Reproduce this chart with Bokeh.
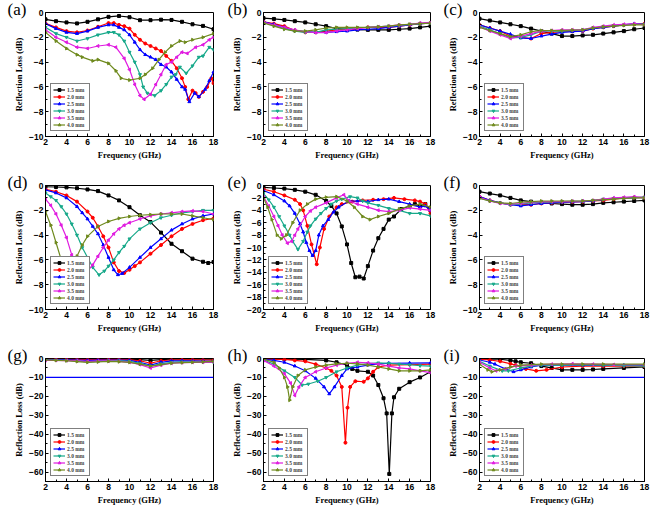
import math
from bokeh.plotting import figure
from bokeh.layouts import gridplot
from bokeh.models import Range1d, FixedTicker, Span
from bokeh.embed import file_html
from bokeh.resources import INLINE

THICKNESS = ["1.5 mm", "2.0 mm", "2.5 mm", "3.0 mm", "3.5 mm", "4.0 mm"]
COLORS = ["#000000", "#FF0000", "#0000FF", "#17A98A", "#E01BE0", "#6F8A1E"]
MARKERS = [("square", 0.0), ("circle", 0.0), ("triangle", 0.0),
           ("inverted_triangle", 0.0), ("triangle", math.pi / 2), ("triangle", -math.pi / 2)]
PANEL_LABELS = ["(a)", "(b)", "(c)", "(d)", "(e)", "(f)", "(g)", "(h)", "(i)"]
X_TICKS = [2, 4, 6, 8, 10, 12, 14, 16, 18]
REF_LEVEL = -10

FREQ = [2, 3, 4, 5, 6, 7, 8, 9, 10, 11, 12, 13, 14, 15, 16, 17, 18]

a15 = [(2,-0.55),(3,-0.7),(4,-0.8),(5,-0.88),(6,-0.75),(7,-0.55),(8,-0.35),(9,-0.28),(10,-0.38),(11,-0.62),(12,-0.62),(13,-0.58),(14,-0.6),(15,-0.75),(16,-0.95),(17,-1.08),(18,-1.35)]
a20 = [(2,-0.88),(3,-1.2),(4,-1.5),(5,-1.6),(6,-1.45),(7,-1.15),(8,-0.85),(8.5,-0.85),(9,-1.0),(9.5,-1.1),(10,-1.3),(10.5,-1.8),(11,-2.2),(11.5,-2.5),(12,-2.7),(12.5,-2.9),(13,-3.1),(13.5,-3.5),(14,-3.9),(14.5,-4.5),(15,-5.3),(15.3,-6.0),(15.6,-7.0),(16,-6.3),(16.3,-6.5),(16.6,-6.8),(17,-6.4),(17.4,-6.0),(17.8,-5.3),(18,-5.7)]
a25 = [(2,-0.9),(3,-1.3),(4,-1.6),(5,-1.7),(6,-1.5),(7,-1.2),(8,-1.0),(8.5,-1.0),(9,-1.2),(9.5,-1.4),(10,-1.8),(10.5,-2.4),(11,-3.0),(11.5,-3.4),(12,-3.6),(12.5,-3.8),(13,-4.2),(13.5,-4.4),(14,-4.8),(14.5,-5.4),(15,-6.0),(15.3,-6.2),(15.7,-7.2),(16.2,-6.5),(16.6,-6.8),(17.2,-6.2),(17.6,-5.5),(18,-4.8)]
a30 = [(2,-1.2),(3,-1.7),(4,-2.0),(5,-2.3),(6,-2.1),(7,-1.8),(8,-1.6),(8.5,-1.6),(9,-1.8),(9.5,-2.3),(10,-3.2),(10.5,-4.0),(11,-5.0),(11.3,-6.0),(11.7,-6.5),(12.4,-6.7),(13,-6.3),(13.5,-5.8),(14,-5.2),(14.4,-5.0),(14.8,-4.4),(15.4,-4.9),(16,-4.3),(16.6,-3.6),(17,-3.5),(17.6,-2.8),(18,-3.0)]
a35 = [(2,-1.4),(3,-2.0),(4,-2.4),(5,-2.8),(6,-2.9),(7,-2.7),(8,-2.6),(8.7,-2.8),(9.5,-3.7),(10,-4.6),(10.5,-5.8),(11,-6.7),(11.4,-7.0),(12,-6.6),(12.5,-5.8),(13,-5.0),(13.5,-4.2),(14,-4.0),(14.5,-3.6),(15,-3.2),(15.5,-3.3),(16.3,-2.8),(17,-2.6),(17.6,-2.2),(18,-2.0)]
a40 = [(2,-1.6),(3,-2.3),(4,-2.9),(5,-3.4),(5.5,-3.6),(6.5,-3.9),(7,-3.8),(8,-4.1),(8.7,-4.7),(9.2,-5.3),(10,-5.45),(11,-5.3),(11.5,-5.0),(12.2,-4.5),(12.8,-3.8),(13.4,-3.2),(14,-2.7),(14.8,-2.3),(15.3,-2.4),(16,-2.2),(17,-2.0),(18,-1.7)]

b15 = [-0.45,-0.52,-0.6,-0.7,-0.8,-0.95,-1.1,-1.3,-1.35,-1.38,-1.4,-1.4,-1.4,-1.35,-1.3,-1.2,-1.1]
b20 = [-0.75,-0.9,-1.1,-1.45,-1.6,-1.6,-1.5,-1.4,-1.3,-1.25,-1.2,-1.2,-1.2,-1.1,-1.0,-0.9,-0.85]
b25 = [-0.75,-0.95,-1.2,-1.45,-1.55,-1.6,-1.6,-1.55,-1.5,-1.4,-1.35,-1.3,-1.2,-1.1,-1.0,-0.9,-0.85]
b30 = [-0.8,-1.05,-1.3,-1.5,-1.6,-1.6,-1.4,-1.35,-1.3,-1.25,-1.2,-1.15,-1.1,-1.05,-0.95,-0.9,-0.85]
b35 = [-0.8,-1.0,-1.2,-1.4,-1.55,-1.62,-1.62,-1.5,-1.4,-1.3,-1.2,-1.15,-1.1,-1.0,-0.95,-0.85,-0.8]
b40 = [-0.85,-1.1,-1.35,-1.5,-1.5,-1.4,-1.25,-1.2,-1.2,-1.2,-1.2,-1.15,-1.1,-1.0,-0.95,-0.9,-0.85]

c15 = [-0.5,-0.65,-0.8,-0.95,-1.1,-1.3,-1.5,-1.7,-1.9,-1.9,-1.85,-1.8,-1.7,-1.6,-1.5,-1.35,-1.25]
c20 = [-1.0,-1.25,-1.5,-1.9,-2.0,-2.1,-1.7,-1.6,-1.55,-1.52,-1.5,-1.3,-1.2,-1.1,-1.0,-0.95,-0.9]
c25 = [-1.0,-1.25,-1.5,-1.75,-2.05,-2.1,-1.9,-1.75,-1.6,-1.55,-1.5,-1.3,-1.2,-1.1,-1.0,-0.9,-0.95]
c30 = [-1.1,-1.4,-1.7,-2.05,-2.0,-1.8,-1.5,-1.5,-1.5,-1.45,-1.4,-1.25,-1.15,-1.05,-1.0,-0.95,-0.95]
c35 = [-1.15,-1.5,-1.8,-2.1,-1.9,-1.7,-1.5,-1.45,-1.4,-1.4,-1.4,-1.2,-1.1,-1.0,-0.95,-0.9,-1.0]
c40 = [-1.2,-1.45,-1.7,-1.95,-1.8,-1.55,-1.45,-1.45,-1.45,-1.42,-1.4,-1.25,-1.15,-1.1,-1.05,-1.0,-1.0]

d15 = [(2,-0.1),(3,-0.12),(4,-0.15),(5,-0.22),(6,-0.32),(7,-0.45),(8,-0.8),(9,-1.2),(10,-1.75),(11,-2.4),(12,-2.95),(13,-3.8),(14,-4.7),(15,-5.3),(16,-5.9),(17,-6.15),(17.5,-6.25),(18,-6.17)]
d20 = [(2,-0.3),(3,-0.5),(4,-0.8),(5,-1.3),(6,-2.1),(6.5,-2.6),(7,-3.3),(7.5,-4.1),(8,-5.0),(8.5,-6.2),(9,-6.9),(9.5,-7.05),(10,-6.8),(10.5,-6.5),(11,-6.2),(12,-5.5),(13,-4.8),(14,-4.1),(15,-3.5),(16,-3.1),(17,-2.8),(18,-2.65)]
d25 = [(2,-0.35),(3,-0.6),(4,-1.0),(5,-1.7),(5.5,-2.2),(6,-2.7),(6.5,-3.3),(7,-3.9),(7.5,-4.8),(8,-5.8),(8.5,-6.8),(8.9,-7.2),(9.3,-7.1),(10,-6.6),(11,-5.8),(12,-5.0),(13,-4.3),(14,-3.6),(15,-3.1),(16,-2.7),(17,-2.45),(18,-2.3)]
d30 = [(2,-0.6),(2.5,-0.9),(3,-1.2),(3.5,-1.7),(4,-2.3),(4.5,-3.1),(5,-4.0),(5.5,-5.0),(6,-5.8),(6.5,-6.6),(7.1,-7.2),(7.6,-6.9),(8,-6.5),(8.5,-6.0),(9,-5.4),(9.5,-4.9),(10,-4.3),(11,-3.5),(12,-3.0),(13,-2.6),(14,-2.4),(15,-2.2),(16,-2.1),(17,-2.0),(18,-2.0)]
d35 = [(2,-1.1),(2.5,-1.6),(3,-2.3),(3.5,-3.2),(4,-4.2),(4.5,-5.6),(5,-6.5),(5.5,-7.0),(6,-6.9),(6.5,-6.4),(7,-5.7),(7.5,-5.0),(8,-4.4),(8.5,-3.9),(9,-3.5),(9.5,-3.2),(10,-3.0),(11,-2.7),(12,-2.45),(13,-2.3),(14,-2.2),(15,-2.1),(16,-2.05),(17,-2.1),(18,-2.3)]
d40 = [(2,-2.1),(2.5,-3.2),(3,-4.6),(3.5,-6.0),(4,-6.9),(4.5,-6.8),(5,-5.7),(5.5,-4.8),(6,-4.1),(7,-3.3),(8,-2.9),(9,-2.65),(10,-2.5),(11,-2.4),(12,-2.35),(13,-2.3),(14,-2.3),(15,-2.3),(16,-2.45),(17,-2.6),(18,-2.75)]

e15 = [(2,-0.3),(3,-0.4),(4,-0.5),(5,-0.7),(6,-1.0),(7,-1.5),(8,-2.5),(8.5,-3.3),(9,-4.5),(9.5,-6.6),(10,-9.5),(10.4,-12.5),(10.8,-14.8),(11.2,-14.7),(11.6,-15.0),(12,-13.0),(12.5,-10.5),(13,-8.5),(13.5,-7.0),(14,-5.5),(14.5,-5.0),(15.2,-3.8),(16,-3.3),(16.5,-3.0),(17,-3.3),(17.5,-3.0),(18,-4.0)]
e20 = [(2,-0.6),(3,-1.0),(4,-1.6),(5,-2.3),(5.5,-3.0),(5.8,-4.0),(6.2,-6.5),(6.6,-9.5),(7.1,-12.7),(7.4,-10.0),(7.8,-7.0),(8.3,-5.0),(9,-3.5),(9.5,-3.0),(10.5,-2.6),(11.5,-2.4),(12.5,-2.3),(13.5,-2.2),(14.5,-2.0),(15.5,-2.2),(16.5,-2.4),(17,-2.6),(17.5,-3.0),(18,-4.5)]
e25 = [(2,-0.8),(3,-1.5),(4,-2.5),(4.5,-3.3),(5,-4.5),(5.5,-6.2),(5.8,-7.5),(6.1,-9.2),(6.4,-10.5),(6.7,-11.3),(7,-10.5),(7.3,-8.0),(7.7,-6.5),(8.2,-5.5),(8.7,-4.3),(9.2,-3.5),(10.2,-2.5),(11,-2.5),(12,-2.6),(13,-2.3),(14,-2.2),(15,-2.6),(16,-3.0),(17,-3.5),(17.5,-3.3),(18,-4.0)]
e30 = [(2,-1.3),(2.5,-2.3),(3,-3.5),(3.5,-5.0),(4,-6.5),(4.5,-8.0),(4.8,-9.0),(5.3,-10.3),(5.8,-9.0),(6.2,-7.5),(6.5,-6.5),(7,-5.4),(7.5,-4.5),(8,-3.7),(8.5,-3.0),(9,-2.5),(9.5,-2.2),(10.3,-1.8),(11,-2.0),(11.5,-2.5),(12,-2.8),(13,-3.2),(14,-3.7),(15,-4.0),(16,-4.5),(17,-4.5),(18,-4.9)]
e35 = [(2,-1.8),(2.5,-3.3),(3,-5.0),(3.4,-6.5),(3.8,-8.0),(4.3,-9.3),(4.7,-9.0),(5,-8.0),(5.3,-7.0),(6,-5.0),(6.5,-4.1),(7,-3.5),(8,-2.8),(9,-2.0),(9.7,-1.5),(10.2,-2.5),(11,-3.0),(12,-3.5),(13,-4.0),(14,-4.2),(15,-4.0),(16,-3.6),(17,-3.8),(18,-4.0)]
e40 = [(2,-2.0),(2.4,-3.5),(2.8,-5.5),(3.3,-8.0),(3.7,-8.6),(4.2,-8.0),(4.8,-6.0),(5.5,-4.0),(6.2,-3.0),(7,-2.2),(8,-1.9),(9,-1.8),(10,-2.5),(10.7,-3.5),(11.5,-5.0),(12.2,-5.5),(13,-5.0),(14,-4.5),(15,-3.8),(16,-3.3),(17,-3.0),(18,-3.5)]

f15 = [-0.5,-0.65,-0.8,-1.0,-1.2,-1.3,-1.4,-1.45,-1.5,-1.55,-1.55,-1.5,-1.4,-1.35,-1.3,-1.25,-1.2]
f20 = [-0.9,-1.2,-1.4,-1.55,-1.55,-1.55,-1.45,-1.4,-1.35,-1.32,-1.3,-1.25,-1.2,-1.1,-1.0,-0.97,-0.95]
f25 = [-0.9,-1.2,-1.4,-1.55,-1.65,-1.55,-1.45,-1.4,-1.35,-1.32,-1.3,-1.25,-1.15,-1.05,-1.0,-0.97,-0.95]
f30 = [-1.0,-1.25,-1.4,-1.55,-1.5,-1.4,-1.35,-1.32,-1.3,-1.27,-1.25,-1.2,-1.1,-1.05,-1.0,-0.97,-0.95]
f35 = [-0.95,-1.25,-1.45,-1.5,-1.45,-1.35,-1.3,-1.3,-1.3,-1.27,-1.25,-1.2,-1.1,-1.0,-0.95,-0.9,-1.0]
f40 = [-1.05,-1.25,-1.4,-1.45,-1.35,-1.3,-1.25,-1.25,-1.25,-1.25,-1.25,-1.2,-1.15,-1.1,-1.05,-1.0,-1.0]

g15 = [-0.3,-0.3,-0.3,-0.3,-0.3,-0.3,-0.3,-0.3,-0.4,-0.6,-1.0,-0.6,-0.4,-0.3,-0.3,-0.3,-0.3]
g20 = [-0.4,-0.4,-0.5,-0.5,-0.6,-0.6,-0.5,-0.5,-0.7,-1.2,-2.5,-1.2,-0.8,-0.7,-0.7,-0.8,-0.9]
g25 = [-0.6,-0.6,-0.7,-0.8,-1.0,-0.9,-0.8,-0.8,-1.0,-2.0,-3.5,-2.0,-1.3,-1.2,-1.3,-1.4,-1.5]
g30 = [-0.8,-0.9,-1.0,-1.3,-1.8,-1.5,-1.2,-1.2,-1.5,-2.5,-4.0,-2.8,-2.0,-1.8,-1.9,-2.0,-2.0]
g35 = [-1.0,-1.0,-1.1,-1.3,-1.5,-1.4,-1.3,-1.5,-2.0,-3.2,-5.0,-3.5,-2.5,-2.2,-2.0,-2.0,-1.9]
g40 = [-0.8,-1.0,-1.2,-1.6,-2.0,-1.8,-1.5,-1.7,-2.0,-3.0,-4.0,-3.2,-2.5,-2.2,-2.0,-1.8,-1.5]

h15 = [(2,-0.2),(4,-0.3),(6,-0.5),(8,-1.0),(9,-2.0),(10,-3.5),(10.5,-5.5),(11,-6.5),(12,-7.0),(12.5,-9.0),(13,-14.0),(13.5,-21.0),(13.8,-29.0),(14.05,-61.0),(14.3,-29.0),(14.5,-20.5),(15,-16.0),(16,-12.5),(17,-10.0),(18,-7.0)]
h20 = [(2,-0.3),(4,-0.5),(5,-1.0),(6,-1.5),(7,-3.0),(8,-5.0),(8.5,-6.5),(9,-9.0),(9.5,-15.0),(9.85,-44.5),(10.05,-26.0),(10.3,-15.0),(10.8,-12.0),(11.6,-12.3),(12,-10.5),(12.5,-7.0),(13,-4.5),(14,-3.5),(16,-3.2),(18,-3.0)]
h25 = [(2,-0.5),(3,-1.0),(4,-2.0),(5,-4.0),(6,-6.5),(7,-10.5),(7.8,-15.0),(8.3,-18.7),(8.8,-15.0),(9.5,-9.0),(10,-5.5),(11,-4.5),(12,-3.5),(13,-2.8),(14,-2.5),(16,-2.4),(18,-2.3)]
h30 = [(2,-0.8),(3,-3.0),(4,-6.5),(5,-10.0),(5.7,-14.0),(6.3,-13.5),(7.2,-12.0),(8,-10.0),(9,-7.0),(10,-5.0),(11,-3.5),(12,-2.7),(13,-2.3),(14,-2.5),(15,-3.0),(16,-3.3),(17,-3.8),(18,-4.0)]
h35 = [(2,-1.0),(3,-4.0),(4,-8.0),(4.6,-13.0),(5,-19.5),(5.4,-15.0),(6,-10.0),(7,-7.0),(8,-5.0),(9,-3.5),(10,-2.5),(11,-2.0),(12,-2.3),(13,-3.0),(14,-4.0),(15,-5.0),(16,-5.5),(17,-6.5),(18,-7.5)]
h40 = [(2,-0.3),(3,-2.0),(3.5,-5.0),(4,-10.0),(4.3,-15.0),(4.5,-22.0),(4.8,-15.0),(5.3,-9.0),(6,-6.0),(7,-4.5),(8,-3.5),(9,-2.8),(10,-2.5),(11,-2.8),(12,-3.5),(13,-4.5),(14,-5.5),(15,-6.5),(16,-6.5),(17,-6.5),(18,-6.0)]

i15 = [(2,-0.3),(3,-0.3),(4,-0.4),(5,-1.0),(5.5,-1.5),(6,-2.0),(7,-2.5),(8,-4.0),(9,-5.0),(10,-6.0),(11,-6.0),(12,-6.0),(13,-5.8),(14,-5.5),(16,-5.0),(18,-4.5)]
i20 = [(2,-0.3),(3,-0.8),(4,-1.5),(5,-2.8),(5.5,-3.5),(6.5,-5.5),(7.5,-6.5),(8.5,-6.0),(10,-4.5),(12,-4.0),(14,-4.0),(16,-4.0),(18,-4.0)]
i25 = [(2,-0.8),(3,-2.0),(3.5,-3.0),(4.5,-5.5),(5.3,-7.0),(6,-6.0),(7,-4.5),(8,-3.5),(10,-3.5),(12,-3.5),(14,-3.5),(16,-3.5),(18,-3.5)]
i30 = [(2,-1.5),(3,-4.0),(4.2,-6.5),(4.8,-6.5),(6,-5.0),(7,-4.0),(8,-3.5),(10,-3.5),(12,-3.3),(14,-3.5),(16,-3.8),(18,-4.0)]
i35 = [(2,-2.0),(3,-5.0),(3.6,-6.5),(4.5,-5.5),(5.5,-4.0),(7,-3.5),(9,-3.0),(11,-2.8),(13,-3.0),(15,-3.2),(18,-3.3)]
i40 = [(2,-3.0),(2.8,-6.0),(3.2,-7.0),(4,-6.0),(5,-4.5),(6,-3.5),(8,-3.0),(10,-3.0),(12,-3.0),(14,-3.0),(18,-3.0)]


def pairs(pts):
    return [p[0] for p in pts], [p[1] for p in pts]


def on_freq(vals):
    return list(FREQ), list(vals)


PANELS = [
    ([pairs(s) for s in (a15, a20, a25, a30, a35, a40)], -10, 2, 1, False),
    ([on_freq(s) for s in (b15, b20, b25, b30, b35, b40)], -10, 2, 1, False),
    ([on_freq(s) for s in (c15, c20, c25, c30, c35, c40)], -10, 2, 1, False),
    ([pairs(s) for s in (d15, d20, d25, d30, d35, d40)], -10, 2, 1, False),
    ([pairs(s) for s in (e15, e20, e25, e30, e35, e40)], -20, 2, 1, False),
    ([on_freq(s) for s in (f15, f20, f25, f30, f35, f40)], -10, 2, 1, False),
    ([on_freq(s) for s in (g15, g20, g25, g30, g35, g40)], -65, 10, 5, True),
    ([pairs(s) for s in (h15, h20, h25, h30, h35, h40)], -65, 10, 5, False),
    ([pairs(s) for s in (i15, i20, i25, i30, i35, i40)], -65, 10, 5, True),
]

COL_LEFT = [45, 40, 38]
COL_FRAME_W = [168, 167, 165]
COL_RIGHT = [10, 11, 6]
ROW_TOP = [12, 12, 12]
ROW_FRAME_H = [124, 124, 123]
ROW_BOTTOM = [37, 37, 26]
LABEL_DX = [-38, -36, -36]     # panel letter: offset from frame left (px)

SERIF = "Liberation Serif"
SANS = "Liberation Sans"

figs = []
for k, (series, ylo, ystep, yminor, refline) in enumerate(PANELS):
    r, c = divmod(k, 3)
    fw, fh = COL_FRAME_W[c], ROW_FRAME_H[r]
    p = figure(frame_width=fw, frame_height=fh,
               min_border_left=COL_LEFT[c], min_border_right=COL_RIGHT[c],
               min_border_top=ROW_TOP[r], min_border_bottom=ROW_BOTTOM[r],
               x_range=Range1d(2, 18), y_range=Range1d(ylo, 0),
               output_backend="svg", toolbar_location=None, tools="")
    p.grid.visible = False
    p.outline_line_color = "black"
    p.outline_line_width = 1
    p.background_fill_color = "white"
    p.border_fill_color = "white"

    p.title.text = PANEL_LABELS[k]
    p.title.align = "left"
    p.title.offset = LABEL_DX[c]
    p.title.standoff = -12
    p.title.text_baseline = "middle"
    p.title.text_font = SERIF
    p.title.text_font_style = "normal"
    p.title.text_font_size = "17px"
    p.title.text_color = "black"

    yt = [t for t in range(0, ylo - 1, -ystep) if t >= ylo]
    ym = [t for t in range(0, ylo - 1, -yminor) if t >= ylo and t not in yt]
    p.xaxis.ticker = FixedTicker(ticks=X_TICKS, minor_ticks=list(range(3, 18, 2)))
    p.yaxis.ticker = FixedTicker(ticks=yt, minor_ticks=ym)
    p.xaxis.axis_label = "Frequency (GHz)"
    p.yaxis.axis_label = "Reflection Loss (dB)"
    for ax in (p.xaxis[0], p.yaxis[0]):
        ax.major_label_text_font = SANS
        ax.major_label_text_font_style = "bold"
        ax.major_label_text_font_size = "8.5px"
        ax.major_label_text_color = "black"
        ax.axis_label_text_font = SERIF
        ax.axis_label_text_font_style = "bold"
        ax.axis_label_text_font_size = "8.5px"
        ax.axis_label_text_color = "black"
        ax.major_tick_in = 3
        ax.major_tick_out = 0
        ax.minor_tick_in = 2
        ax.minor_tick_out = 0
        ax.major_label_standoff = 2
        ax.axis_label_standoff = 2
        ax.axis_line_color = "black"

    if refline:
        p.add_layout(Span(location=REF_LEVEL, dimension="width", line_color="#0000FF", line_width=1.2))

    for j, (xs, ys) in enumerate(series):
        mk, ang = MARKERS[j]
        p.line(xs, ys, line_color=COLORS[j], line_width=1.2, legend_label=THICKNESS[j])
        p.scatter(xs, ys, marker=mk, angle=ang, size=3, fill_color=COLORS[j],
                  line_color=COLORS[j], legend_label=THICKNESS[j])

    lg = p.legend[0]
    lg.location = "bottom_left"
    lg.margin = 5
    lg.padding = 2
    lg.spacing = 0
    lg.label_height = 7
    lg.glyph_height = 7
    lg.glyph_width = 12
    lg.label_standoff = 2
    lg.label_text_font = SERIF
    lg.label_text_font_style = "bold"
    lg.label_text_font_size = "5.5px"
    lg.label_text_line_height = 1.0
    lg.border_line_color = "black"
    lg.border_line_width = 0.8
    lg.background_fill_alpha = 1
    figs.append(p)

grid = gridplot([figs[0:3], figs[3:6], figs[6:9]], toolbar_location=None)

open("out.html", "w").write(file_html(grid, INLINE))
